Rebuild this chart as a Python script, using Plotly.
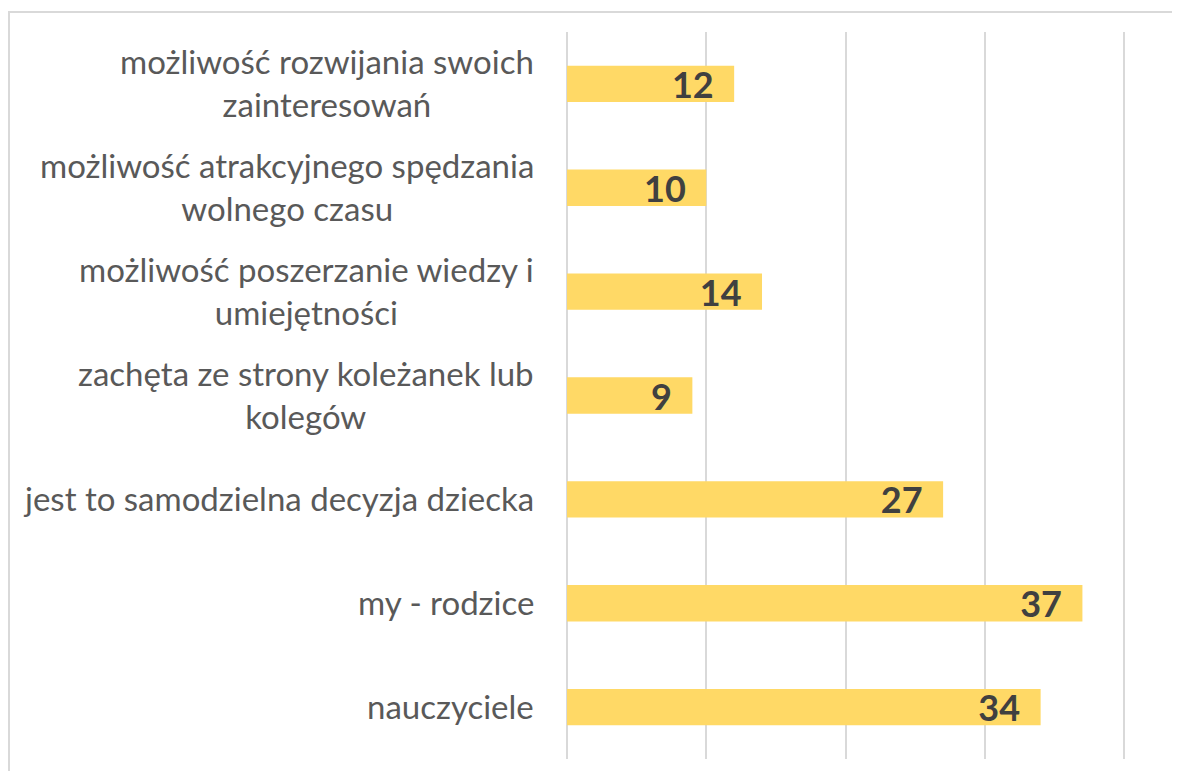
import plotly.graph_objects as go

categories = [
    "możliwość rozwijania swoich<br>zainteresowań",
    "możliwość atrakcyjnego spędzania<br>wolnego czasu",
    "możliwość poszerzanie wiedzy i<br>umiejętności",
    "zachęta ze strony koleżanek lub<br>kolegów",
    "jest to samodzielna decyzja dziecka",
    "my - rodzice",
    "nauczyciele",
]
values = [12, 10, 14, 9, 27, 37, 34]
x_ticks = [0, 10, 20, 30, 40]
x_max = 40.2

# page body has an 8px margin, so the figure is 8px smaller on each axis
W, H = 1172, 763
L, R, T, B = 559, 53, 24, 12
pw, ph = W - L - R, H - T - B

fig = go.Figure()
fig.add_trace(go.Bar(
    y=categories,
    x=values,
    orientation="h",
    marker=dict(color="#FFD966", line=dict(width=0)),
    text=values,
    texttemplate="%{text}\u00a0\u00a0",
    textposition="inside",
    insidetextanchor="end",
    textangle=0,
    constraintext="none",
    textfont=dict(family="Lato", size=36, color="#404040", weight="bold"),
    hoverinfo="skip",
))

annotations = []
for c in categories:
    annotations.append(dict(
        x=0, xref="paper", y=c, yref="y",
        text=c, showarrow=False, xanchor="right", yanchor="middle",
        align="center", xshift=-31, yshift=1,
        font=dict(family="Lato", size=33, color="#595959"),
    ))

fig.update_layout(
    width=W, height=H,
    margin=dict(l=L, r=R, t=T, b=B),
    paper_bgcolor="white", plot_bgcolor="white",
    showlegend=False,
    bargap=0.65,
    annotations=annotations,
    shapes=[dict(
        type="rect", xref="paper", yref="paper",
        x0=(1 - L) / pw, x1=(W + 20 - L) / pw,
        y0=-(B + 20) / ph, y1=1 + (T - 4) / ph,
        line=dict(color="#D9D9D9", width=2), layer="below",
    )],
    xaxis=dict(
        range=[0, x_max], tickvals=x_ticks, showticklabels=False,
        showgrid=True, gridcolor="#D9D9D9", gridwidth=2,
        zeroline=True, zerolinecolor="#D9D9D9", zerolinewidth=2,
        showline=False, fixedrange=True,
    ),
    yaxis=dict(
        autorange="reversed", showticklabels=False, showgrid=False,
        zeroline=False, showline=False, fixedrange=True,
    ),
)

fig.write_html("out.html")
